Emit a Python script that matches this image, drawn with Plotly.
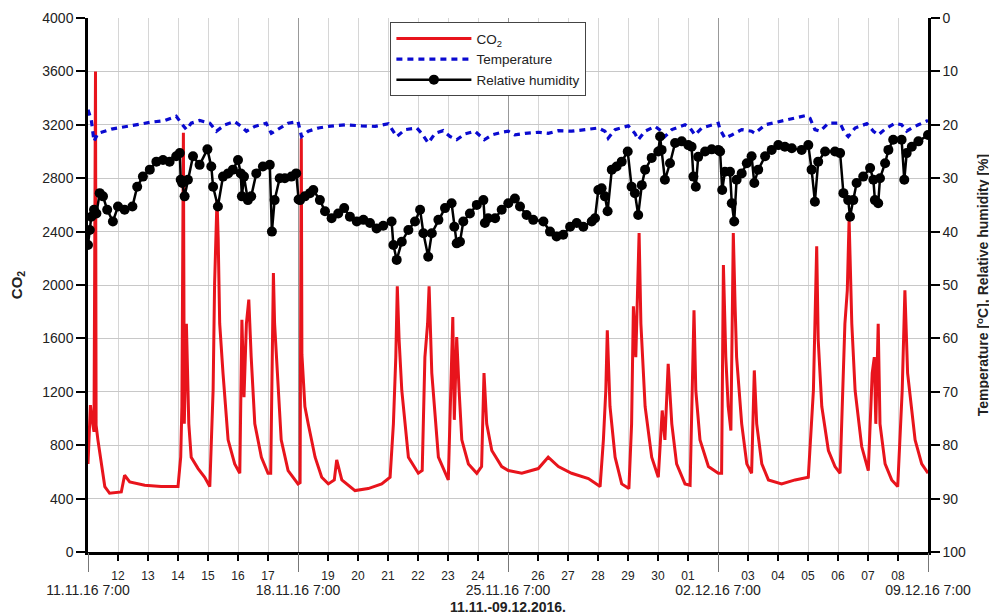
import pandas as pd
import plotly.graph_objects as go

START = "2016-11-11 07:00"
N_DAYS = 28

# ---- CO2 (ppm), time in days since 11.11.16 7:00 ----
co2_days = [0.00, 0.08, 0.13, 0.20, 0.25, 0.27, 0.33, 0.56, 0.72, 1.11, 1.22, 1.39, 1.89, 2.44, 3.00,
            3.09, 3.13, 3.18, 3.21, 3.28, 3.36, 3.44, 3.67, 3.89, 4.06, 4.17, 4.22, 4.30, 4.34, 4.39,
            4.50, 4.67, 4.89, 5.06, 5.13, 5.20, 5.28, 5.36, 5.44, 5.56, 5.78, 6.00, 6.09, 6.14, 6.18,
            6.22, 6.28, 6.44, 6.67, 6.89, 7.00, 7.07, 7.11, 7.13, 7.17, 7.23, 7.34, 7.57, 7.79, 8.01,
            8.21, 8.29, 8.46, 8.90, 9.34, 9.79, 10.07, 10.18, 10.26, 10.31, 10.37, 10.46, 10.68, 11.01,
            11.14, 11.23, 11.32, 11.37, 11.46, 11.68, 12.01, 12.10, 12.16, 12.21, 12.29, 12.37, 12.46,
            12.68, 12.96, 13.12, 13.20, 13.29, 13.46, 13.79, 14.01, 14.46, 15.01, 15.34, 15.68, 16.12,
            16.68, 17.07, 17.18, 17.26, 17.31, 17.40, 17.57, 17.79, 18.03, 18.12, 18.18, 18.26, 18.31,
            18.37, 18.43, 18.57, 18.79, 19.01, 19.14, 19.23, 19.34, 19.46, 19.62, 19.90, 20.07, 20.14,
            20.20, 20.26, 20.40, 20.68, 21.01, 21.12, 21.18, 21.26, 21.34, 21.43, 21.48, 21.51, 21.57,
            21.62, 21.79, 21.96, 22.12, 22.21, 22.29, 22.46, 22.68, 23.12, 23.57, 24.01, 24.18, 24.23,
            24.29, 24.34, 24.46, 24.68, 24.90, 25.07, 25.23, 25.31, 25.37, 25.46, 25.57, 25.79, 26.01,
            26.14, 26.21, 26.26, 26.31, 26.34, 26.40, 26.57, 26.79, 26.99, 27.14, 27.23, 27.32, 27.57,
            27.79, 28.00]
co2_ppm = [660, 1100, 1000, 900, 3600, 950, 840, 490, 440, 450, 575, 525, 500, 490, 490,
           710, 1090, 3140, 960, 1710, 960, 710, 625, 560, 490, 1210, 2010, 2640, 2340, 1710,
           1340, 840, 660, 590, 1740, 1160, 1710, 1890, 1460, 960, 710, 590, 590, 1590, 2090,
           1710, 1460, 840, 610, 540, 510, 520, 3100, 1480, 1350, 1090, 960, 710, 560, 510,
           540, 690, 540, 460, 475, 510, 560, 960, 1460, 1990, 1590, 1210, 710, 590,
           610, 1460, 1710, 1990, 1340, 710, 540, 1210, 1760, 990, 1610, 1210, 840,
           660, 590, 640, 1340, 960, 760, 640, 610, 590, 625, 710, 640, 590,
           550, 490, 840, 1210, 1660, 1090, 710, 510, 475, 960, 1840, 1460, 1960,
           2390, 1710, 1090, 710, 560, 1060, 840, 1410, 960, 660, 510, 500, 1210,
           1810, 1210, 840, 640, 590, 590, 2150, 1460, 1090, 910, 1710, 2390, 1840,
           1460, 960, 660, 590, 1360, 960, 660, 540, 510, 540, 560, 1210, 1710,
           2290, 1590, 1090, 760, 640, 590, 1710, 1960, 2490, 1710, 1210, 790, 610,
           1340, 1460, 960, 1510, 1710, 960, 660, 540, 490, 1210, 1960, 1340, 840,
           660, 590]

# ---- Relative humidity (%) ----
rh_days = [0.00, 0.06, 0.11, 0.20, 0.28, 0.39, 0.50, 0.64, 0.83, 1.00, 1.22, 1.48, 1.64, 1.83, 2.06,
           2.28, 2.50, 2.72, 2.94, 3.06, 3.09, 3.14, 3.22, 3.33, 3.50, 3.72, 3.98, 4.11, 4.17, 4.33,
           4.50, 4.67, 4.83, 5.00, 5.09, 5.13, 5.20, 5.33, 5.44, 5.61, 5.83, 6.06, 6.13, 6.22, 6.39,
           6.56, 6.78, 6.94, 7.02, 7.07, 7.23, 7.40, 7.51, 7.73, 7.90, 8.12, 8.34, 8.54, 8.73, 8.96,
           9.18, 9.40, 9.62, 9.84, 10.12, 10.18, 10.29, 10.46, 10.68, 10.90, 11.07, 11.18, 11.34,
           11.46, 11.68, 11.90, 12.12, 12.21, 12.29, 12.40, 12.51, 12.73, 12.96, 13.18, 13.23, 13.34,
           13.57, 13.79, 14.01, 14.23, 14.40, 14.62, 14.84, 15.18, 15.40, 15.62, 15.84, 16.07, 16.29,
           16.51, 16.79, 16.90, 17.01, 17.12, 17.23, 17.32, 17.46, 17.62, 17.79, 17.99, 18.12, 18.23,
           18.34, 18.46, 18.57, 18.79, 19.01, 19.07, 19.12, 19.23, 19.40, 19.57, 19.79, 20.01, 20.12,
           20.18, 20.26, 20.34, 20.57, 20.79, 21.01, 21.07, 21.14, 21.23, 21.40, 21.46, 21.54, 21.62,
           21.79, 21.96, 22.12, 22.21, 22.34, 22.57, 22.79, 23.01, 23.23, 23.46, 23.79, 24.01, 24.12,
           24.23, 24.34, 24.57, 24.90, 25.07, 25.18, 25.34, 25.40, 25.51, 25.62, 25.84, 26.07, 26.18,
           26.23, 26.34, 26.40, 26.57, 26.68, 26.84, 27.12, 27.21, 27.29, 27.46, 27.68, 28.00]
rh_pct = [42.5, 39.7, 37.2, 35.9, 36.6, 32.8, 33.4, 35.9, 38.1, 35.3, 35.9, 35.3, 31.6, 29.7, 28.4,
          26.9, 26.6, 26.9, 25.9, 25.3, 30.3, 30.9, 33.4, 30.3, 25.9, 27.5, 24.6, 27.8, 31.6, 35.3,
          29.7, 29.1, 28.4, 26.6, 29.1, 33.4, 29.7, 34.1, 33.4, 29.1, 27.8, 27.5, 40.0, 34.1, 30.0,
          30.0, 29.7, 29.1, 34.0, 34.1, 33.4, 32.8, 32.2, 34.1, 36.2, 37.5, 36.6, 35.6, 37.2, 38.1,
          37.8, 38.4, 39.4, 38.9, 38.1, 42.5, 45.3, 41.9, 39.7, 38.1, 35.9, 40.3, 44.7,
          40.3, 37.8, 35.6, 34.7, 39.1, 42.2, 41.9, 38.1, 36.6, 35.0, 34.1, 38.4, 37.5,
          37.5, 35.9, 34.7, 33.8, 35.3, 36.9, 37.8, 38.1, 40.0, 40.9, 40.6, 39.1, 38.4,
          39.1, 38.1, 37.5, 32.2, 31.9, 33.4, 36.2, 28.4, 27.8, 26.9, 25.0, 31.6, 32.8,
          36.9, 31.3, 28.4, 26.2, 25.0, 22.2, 24.7, 30.3, 27.2, 23.4, 23.1, 23.8, 24.1,
          29.7, 31.6, 26.0, 25.0, 24.6, 24.7, 25.0, 32.2, 28.8, 28.8, 34.7, 38.1, 30.3,
          29.1, 27.2, 25.9, 30.9, 28.4, 25.9, 24.7, 23.8, 24.1, 24.4, 24.7, 23.8, 28.4,
          34.4, 26.9, 25.0, 25.0, 25.3, 32.8, 34.1, 37.2, 34.1, 30.9, 29.7, 28.1, 30.3,
          34.1, 34.7, 30.0, 27.2, 24.7, 22.8, 22.8, 30.3, 25.3, 24.1, 23.1, 21.9]

# ---- Temperature (deg C) ----
temp_days = [0.00, 0.11, 0.20, 0.33, 0.78, 1.56, 2.11, 2.56, 2.94, 3.11, 3.28, 3.44, 3.72, 4.06, 4.28,
             4.56, 4.89, 5.11, 5.28, 5.56, 5.94, 6.11, 6.39, 6.67, 7.00, 7.12, 7.34, 7.68, 8.01, 8.57,
             9.12, 9.57, 10.01, 10.29, 10.57, 10.96, 11.12, 11.34, 11.57, 11.84, 12.07, 12.29, 12.57,
             12.90, 13.21, 13.46, 13.79, 14.01, 14.23, 14.57, 15.01, 15.34, 15.68, 16.12, 16.57, 17.01,
             17.23, 17.34, 17.57, 18.01, 18.23, 18.34, 18.57, 18.90, 19.12, 19.23, 19.46, 19.90, 20.07,
             20.23, 20.46, 20.79, 21.01, 21.07, 21.23, 21.46, 21.79, 22.12, 22.23, 22.57, 23.01, 23.34,
             23.90, 24.07, 24.23, 24.40, 24.68, 25.07, 25.23, 25.34, 25.57, 25.96, 26.18, 26.34, 26.57,
             26.90, 27.12, 27.29, 27.46, 27.68, 28.00]
temp_c = [17.2, 19.1, 23.1, 21.6, 20.8, 20.0, 19.5, 19.2, 18.4, 19.7, 20.9, 19.7, 19.2, 19.7, 21.2,
          20.0, 19.4, 20.3, 21.2, 20.3, 19.7, 21.6, 20.6, 19.7, 19.4, 22.2, 21.2, 20.6, 20.3, 20.0,
          20.2, 20.3, 19.8, 22.2, 20.9, 20.6, 21.6, 23.4, 21.6, 21.1, 22.2, 22.8, 21.7,
          21.2, 22.8, 21.9, 21.4, 21.2, 21.9, 21.6, 21.4, 21.6, 21.1, 21.2, 20.9, 20.6,
          21.2, 22.5, 20.9, 20.2, 21.6, 22.8, 21.2, 20.3, 21.2, 22.2, 20.9, 20.0, 20.6,
          21.9, 20.6, 20.0, 19.7, 20.9, 22.5, 21.9, 20.9, 21.2, 21.6, 20.0, 19.4, 19.1,
          18.3, 18.8, 20.9, 21.2, 19.7, 19.7, 21.6, 22.2, 20.6, 19.8, 21.2, 21.9, 20.8,
          19.7, 20.0, 21.2, 20.6, 20.0, 19.2]

start = pd.Timestamp(START)
def to_time(days):
    return start + pd.to_timedelta(days, unit="D")

day_ticks = pd.date_range(start, periods=N_DAYS + 1, freq="D")
daily_vals = [d for i, d in enumerate(day_ticks) if i % 7 != 0]
daily_text = [d.strftime("%d") for d in daily_vals]
weekly_vals = [d for i, d in enumerate(day_ticks) if i % 7 == 0]
weekly_text = [d.strftime("%d.%m.%y") + " 7:00" for d in weekly_vals]

FONT = "Arial, Liberation Sans, sans-serif"
xrange = [day_ticks[0], day_ticks[-1]]

fig = go.Figure()
fig.add_trace(go.Scatter(x=to_time(co2_days), y=co2_ppm, name="CO<sub>2</sub>", mode="lines",
                         line=dict(color="#e8141c", width=3)))
fig.add_trace(go.Scatter(x=to_time(temp_days), y=temp_c, name="Temperature", mode="lines",
                         yaxis="y2", line=dict(color="#0a0ad0", width=3.2, dash="6px,5px")))
fig.add_trace(go.Scatter(x=to_time(rh_days), y=rh_pct, name="Relative humidity", mode="lines+markers",
                         yaxis="y2", line=dict(color="black", width=2.5),
                         marker=dict(color="black", size=10)))

# The page body adds an 8 px margin, so the figure is 8 px smaller and margins shifted.
fig.update_layout(
    width=989, height=608,
    margin=dict(l=80, r=69, t=10, b=64, autoexpand=False),
    paper_bgcolor="white", plot_bgcolor="white",
    font=dict(family=FONT, color="#222", size=14),
    showlegend=True,
    legend=dict(x=0.36, y=0.992, xanchor="left", yanchor="top", bgcolor="white",
                bordercolor="#444", borderwidth=1, itemwidth=75, font=dict(size=13.5),
                tracegroupgap=0),
    xaxis=dict(type="date", range=xrange, tickmode="array", tickvals=daily_vals, ticktext=daily_text,
               showgrid=True, gridcolor="#d6d6d6", gridwidth=1, showline=True, linecolor="black",
               linewidth=2.5, ticks="outside", ticklen=6, tickwidth=2, tickcolor="black",
               tickfont=dict(size=12), zeroline=False, automargin=False, ticklabelstandoff=5),
    xaxis2=dict(type="date", range=xrange, overlaying="x", anchor="y", side="bottom",
                tickmode="array", tickvals=weekly_vals, ticktext=weekly_text,
                showgrid=True, gridcolor="#999999", gridwidth=1, showline=False,
                ticks="outside", ticklen=19, tickwidth=1, tickcolor="#777",
                tickfont=dict(size=14), automargin=False, ticklabelstandoff=6,
                title=dict(text="<b>11.11.-09.12.2016.</b>", font=dict(size=14), standoff=5)),
    yaxis=dict(range=[0, 4000], dtick=400, tick0=0, showgrid=True, gridcolor="#c8c8c8", gridwidth=1,
               showline=True, linecolor="black", linewidth=2.5, ticks="outside", ticklen=9,
               tickwidth=2, tickcolor="black", zeroline=False, automargin=False,
               title=dict(text="<b>CO<sub>2</sub></b>", font=dict(size=15), standoff=20)),
    yaxis2=dict(range=[100, 0], dtick=10, tick0=0, overlaying="y", side="right", anchor="x",
                showgrid=False, showline=True, linecolor="black", linewidth=2.5, ticks="outside",
                ticklen=9, tickwidth=2, tickcolor="black", zeroline=False, automargin=False,
                title=dict(text="<b>Temperature [<sup>o</sup>C], Relative humidity [%]</b>",
                           font=dict(size=14), standoff=14)),
)
# anchor invisible trace to xaxis2 so it is drawn
fig.add_trace(go.Scatter(x=[xrange[0], xrange[1]], y=[co2_ppm[0], co2_ppm[-1]], xaxis="x2",
                         mode="lines", line=dict(width=0), opacity=0, showlegend=False,
                         hoverinfo="skip"))

fig.write_html("out.html")
